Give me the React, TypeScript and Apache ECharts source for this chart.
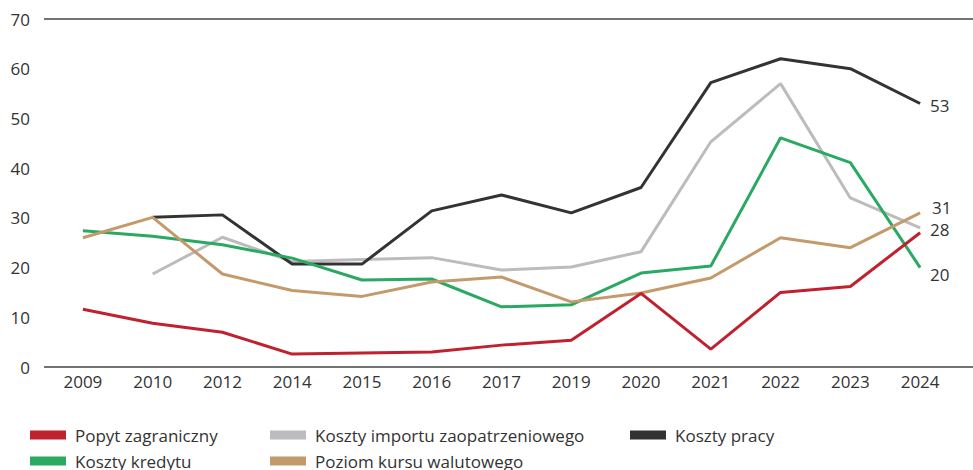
import React, { useEffect, useRef } from "react";
import * as echarts from "echarts";

const categories = ["2009", "2010", "2012", "2014", "2015", "2016", "2017", "2019", "2020", "2021", "2022", "2023", "2024"];

const popytZagraniczny = [11.6, 8.8, 7.0, 2.6, 2.8, 3.0, 4.4, 5.4, 14.8, 3.6, 15.0, 16.2, 27];
const kosztyImportu = [null, 18.7, 26.1, 21.2, 21.6, 22.0, 19.5, 20.1, 23.2, 45.3, 57.0, 34.0, 28];
const kosztyPracy = [null, 30.1, 30.6, 20.7, 20.7, 31.4, 34.6, 31.0, 36.1, 57.2, 62.0, 60.0, 53];
const kosztyKredytu = [27.4, 26.3, 24.6, 21.9, 17.5, 17.7, 12.1, 12.5, 18.9, 20.3, 46.1, 41.1, 20];
const poziomKursu = [26.0, 30.1, 18.7, 15.4, 14.2, 17.1, 18.1, 13.1, 14.9, 17.9, 26.0, 24.0, 31];

const legendRow1 = ["Popyt zagraniczny", "Koszty importu zaopatrzeniowego", "Koszty pracy"];
const legendRow2 = ["Koszty kredytu", "Poziom kursu walutowego"];

const yTicks = { min: 0, max: 70, interval: 10 };

const FONT = "'Open Sans', sans-serif";
const TXT = "#333333";
const FS = 17;

export default function App() {
  const ref = useRef<HTMLDivElement>(null);
  useEffect(() => {
    if (!ref.current) return;
    const chart = echarts.init(ref.current, null, { renderer: "svg" });
    const lineSeries = (name: string, data: any[], color: string, label: boolean, offset: number[] = [0, 0]) => ({
      name,
      type: "line",
      data,
      xAxisIndex: 0,
      yAxisIndex: 0,
      symbol: "none",
      lineStyle: { color, width: 3 },
      itemStyle: { color },
      connectNulls: false,
      endLabel: label
        ? {
            show: true,
            formatter: (p: any) => String(p.value),
            distance: 10,
            offset,
            color: TXT,
            fontFamily: FONT,
            fontSize: FS,
          }
        : { show: false },
    });
    const colLeft = [30, 270, 630];
    const legendOne = (name: string, left: number, top: number) => ({
      orient: "horizontal",
      left,
      top,
      padding: 0,
      itemWidth: 36,
      itemHeight: 9,
      icon: "rect",
      data: [name],
      textStyle: { color: TXT, fontFamily: FONT, fontSize: FS, lineHeight: 18, padding: [0, 0, 0, 4] },
    });
    const legends = [
      ...legendRow1.map((n, i) => legendOne(n, colLeft[i], 426)),
      ...legendRow2.map((n, i) => legendOne(n, colLeft[i], 452)),
    ];
    chart.setOption({
      animation: false,
      textStyle: { fontFamily: FONT },
      grid: [
        { left: 48, right: 18, top: 19, bottom: 103 },
        { left: 44, right: 0, top: 19, bottom: 103 },
      ],
      xAxis: [
        {
          type: "category",
          gridIndex: 0,
          data: categories,
          boundaryGap: true,
          axisLine: { show: false },
          axisTick: { show: false },
          axisLabel: { color: TXT, fontFamily: FONT, fontSize: FS, margin: 6 },
        },
        {
          type: "value",
          gridIndex: 1,
          min: 0,
          max: 1,
          show: false,
        },
      ],
      yAxis: [
        {
          type: "value",
          gridIndex: 0,
          min: yTicks.min,
          max: yTicks.max,
          interval: yTicks.interval,
          axisLine: { show: false },
          axisTick: { show: false },
          splitLine: { show: false },
          axisLabel: { color: TXT, fontFamily: FONT, fontSize: FS, margin: 18 },
        },
        {
          type: "value",
          gridIndex: 1,
          min: yTicks.min,
          max: yTicks.max,
          interval: yTicks.max,
          axisLine: { show: false },
          axisTick: { show: false },
          axisLabel: { show: false },
          splitLine: { show: true, lineStyle: { color: "#444444", width: 1.5 } },
        },
      ],
      legend: legends,
      series: [
        lineSeries("Koszty importu zaopatrzeniowego", kosztyImportu, "#bcbcbe", true, [0, 2]),
        lineSeries("Koszty pracy", kosztyPracy, "#333333", true, [0, 2]),
        lineSeries("Koszty kredytu", kosztyKredytu, "#2aa962", true, [0, 7]),
        lineSeries("Poziom kursu walutowego", poziomKursu, "#c49a6c", true, [2, -5]),
        lineSeries("Popyt zagraniczny", popytZagraniczny, "#c1202f", false),
      ],
    });
    return () => chart.dispose();
  }, []);
  return <div ref={ref} style={{ width: 973, height: 470, position: "absolute", left: 0, top: 0 }} />;
}
